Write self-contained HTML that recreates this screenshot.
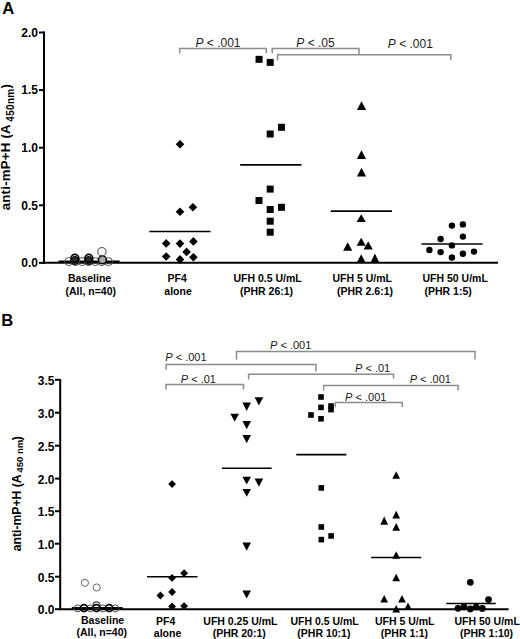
<!DOCTYPE html>
<html><head><meta charset="utf-8"><style>
html,body{margin:0;padding:0;background:#fff;}
body{width:520px;height:639px;overflow:hidden;}
svg{display:block;font-family:"Liberation Sans", sans-serif;}
</style></head><body>
<svg width="520" height="639" viewBox="0 0 520 639">
<rect width="520" height="639" fill="#fff"/>
<text x="2.2" y="14" font-size="16.6" font-weight="bold" text-anchor="start" fill="#000">A</text>
<line x1="44" y1="31.5" x2="44" y2="263.8" stroke="#000" stroke-width="2"/>
<line x1="39" y1="32.5" x2="44" y2="32.5" stroke="#000" stroke-width="2"/>
<text x="38" y="36.8" font-size="12" font-weight="bold" text-anchor="end" fill="#000">2.0</text>
<line x1="39" y1="90.1" x2="44" y2="90.1" stroke="#000" stroke-width="2"/>
<text x="38" y="94.39999999999999" font-size="12" font-weight="bold" text-anchor="end" fill="#000">1.5</text>
<line x1="39" y1="147.7" x2="44" y2="147.7" stroke="#000" stroke-width="2"/>
<text x="38" y="152.0" font-size="12" font-weight="bold" text-anchor="end" fill="#000">1.0</text>
<line x1="39" y1="205.3" x2="44" y2="205.3" stroke="#000" stroke-width="2"/>
<text x="38" y="209.60000000000002" font-size="12" font-weight="bold" text-anchor="end" fill="#000">0.5</text>
<line x1="39" y1="262.9" x2="44" y2="262.9" stroke="#000" stroke-width="2"/>
<text x="38" y="267.2" font-size="12" font-weight="bold" text-anchor="end" fill="#000">0.0</text>
<line x1="42.8" y1="262.8" x2="498" y2="262.8" stroke="#000" stroke-width="2"/>
<text transform="translate(10.3,210.3) rotate(-90) scale(1.0,1)" font-size="13.2" font-weight="bold" fill="#000" letter-spacing="0.25">anti-mP+H (A<tspan font-size="10" dy="3.3" dx="2.5" letter-spacing="0.3">450nm</tspan><tspan dy="-3.3" letter-spacing="0.25">)</tspan></text>
<text x="68" y="282.3" font-size="10.5" font-weight="bold" text-anchor="start" fill="#000">Baseline</text>
<text x="65.5" y="295" font-size="10.5" font-weight="bold" text-anchor="start" fill="#000">(All, n=40)</text>
<text x="167.5" y="282.3" font-size="10.5" font-weight="bold" text-anchor="start" fill="#000">PF4</text>
<text x="164.3" y="295.2" font-size="10.5" font-weight="bold" text-anchor="start" fill="#000">alone</text>
<text x="233.5" y="282.3" font-size="10.5" font-weight="bold" text-anchor="start" fill="#000">UFH 0.5 U/mL</text>
<text x="240" y="295" font-size="10.5" font-weight="bold" text-anchor="start" fill="#000">(PHR 26:1)</text>
<text x="332.5" y="282.3" font-size="10.5" font-weight="bold" text-anchor="start" fill="#000">UFH 5 U/mL</text>
<text x="337" y="295" font-size="10.5" font-weight="bold" text-anchor="start" fill="#000">(PHR 2.6:1)</text>
<text x="422.5" y="282.3" font-size="10.5" font-weight="bold" text-anchor="start" fill="#000">UFH 50 U/mL</text>
<text x="424.5" y="295" font-size="10.5" font-weight="bold" text-anchor="start" fill="#000">(PHR 1:5)</text>
<line x1="58.6" y1="261.6" x2="119.6" y2="261.6" stroke="#000" stroke-width="2.2"/>
<circle cx="68.8" cy="261.6" r="4.0" fill="none" stroke="#505050" stroke-width="1"/>
<circle cx="75.5" cy="261.6" r="4.0" fill="none" stroke="#505050" stroke-width="1"/>
<circle cx="82" cy="261.6" r="4.0" fill="none" stroke="#505050" stroke-width="1"/>
<circle cx="88.5" cy="261.6" r="4.0" fill="none" stroke="#505050" stroke-width="1"/>
<circle cx="95.3" cy="261.6" r="4.0" fill="none" stroke="#505050" stroke-width="1"/>
<circle cx="102" cy="261.6" r="4.0" fill="none" stroke="#505050" stroke-width="1"/>
<circle cx="108.5" cy="261.6" r="4.0" fill="none" stroke="#505050" stroke-width="1"/>
<circle cx="74.9" cy="260.5" r="3.9" fill="#2a2a2a" stroke="#111" stroke-width="1.3"/>
<circle cx="74.9" cy="258.3" r="3.9" fill="none" stroke="#000" stroke-width="1.6"/>
<circle cx="88.8" cy="260.5" r="3.9" fill="#2a2a2a" stroke="#111" stroke-width="1.3"/>
<circle cx="88.8" cy="258.3" r="3.9" fill="none" stroke="#000" stroke-width="1.6"/>
<circle cx="102.4" cy="259.8" r="3.9" fill="#aaa" stroke="#000" stroke-width="1.4"/>
<circle cx="101.9" cy="251.7" r="4.1" fill="none" stroke="#444" stroke-width="1"/>
<path d="M180.00 140.00L184.30 144.30L180.00 148.60L175.70 144.30Z" fill="#000"/>
<path d="M192.90 202.90L197.20 207.20L192.90 211.50L188.60 207.20Z" fill="#000"/>
<path d="M180.00 207.50L184.30 211.80L180.00 216.10L175.70 211.80Z" fill="#000"/>
<path d="M166.20 239.10L170.50 243.40L166.20 247.70L161.90 243.40Z" fill="#000"/>
<path d="M180.00 239.30L184.30 243.60L180.00 247.90L175.70 243.60Z" fill="#000"/>
<path d="M193.40 237.10L197.70 241.40L193.40 245.70L189.10 241.40Z" fill="#000"/>
<path d="M186.60 247.60L190.90 251.90L186.60 256.20L182.30 251.90Z" fill="#000"/>
<path d="M166.20 252.20L170.50 256.50L166.20 260.80L161.90 256.50Z" fill="#000"/>
<path d="M180.00 255.10L184.30 259.40L180.00 263.70L175.70 259.40Z" fill="#000"/>
<path d="M193.40 252.90L197.70 257.20L193.40 261.50L189.10 257.20Z" fill="#000"/>
<line x1="149.3" y1="231.5" x2="210.5" y2="231.5" stroke="#000" stroke-width="1.6"/>
<rect x="255.55" y="55.85" width="7" height="7" fill="#000"/>
<rect x="266.70" y="58.90" width="7" height="7" fill="#000"/>
<rect x="278.00" y="123.80" width="7" height="7" fill="#000"/>
<rect x="266.70" y="130.50" width="7" height="7" fill="#000"/>
<rect x="266.70" y="185.60" width="7" height="7" fill="#000"/>
<rect x="255.50" y="197.00" width="7" height="7" fill="#000"/>
<rect x="266.70" y="206.00" width="7" height="7" fill="#000"/>
<rect x="278.00" y="203.80" width="7" height="7" fill="#000"/>
<rect x="266.70" y="217.70" width="7" height="7" fill="#000"/>
<rect x="266.70" y="228.70" width="7" height="7" fill="#000"/>
<line x1="240.2" y1="164.9" x2="301.5" y2="164.9" stroke="#000" stroke-width="1.6"/>
<path d="M361.50 101.30L366.10 109.90L356.90 109.90Z" fill="#000"/>
<path d="M361.50 150.20L366.10 158.90L356.90 158.90Z" fill="#000"/>
<path d="M361.50 167.80L366.10 176.40L356.90 176.40Z" fill="#000"/>
<path d="M361.20 214.20L365.80 222.00L356.60 222.00Z" fill="#000"/>
<path d="M347.70 242.30L352.30 250.80L343.10 250.80Z" fill="#000"/>
<path d="M361.20 237.70L365.80 245.80L356.60 245.80Z" fill="#000"/>
<path d="M368.20 241.20L372.80 249.50L363.60 249.50Z" fill="#000"/>
<path d="M361.20 254.30L365.80 263.00L356.60 263.00Z" fill="#000"/>
<path d="M374.90 253.50L379.50 263.00L370.30 263.00Z" fill="#000"/>
<line x1="330.8" y1="211.1" x2="392" y2="211.1" stroke="#000" stroke-width="1.6"/>
<circle cx="451.9" cy="225.6" r="3.2" fill="#000" stroke="none" stroke-width="0"/>
<circle cx="462.9" cy="224.4" r="3.2" fill="#000" stroke="none" stroke-width="0"/>
<circle cx="440.6" cy="239" r="3.2" fill="#000" stroke="none" stroke-width="0"/>
<circle cx="462.9" cy="236.6" r="3.2" fill="#000" stroke="none" stroke-width="0"/>
<circle cx="451.9" cy="245.4" r="3.2" fill="#000" stroke="none" stroke-width="0"/>
<circle cx="429.4" cy="250" r="3.2" fill="#000" stroke="none" stroke-width="0"/>
<circle cx="440.6" cy="252.1" r="3.2" fill="#000" stroke="none" stroke-width="0"/>
<circle cx="462.9" cy="253.75" r="3.2" fill="#000" stroke="none" stroke-width="0"/>
<circle cx="474" cy="251.6" r="3.2" fill="#000" stroke="none" stroke-width="0"/>
<circle cx="451.9" cy="257.5" r="3.2" fill="#000" stroke="none" stroke-width="0"/>
<line x1="421.5" y1="244" x2="482.5" y2="244" stroke="#000" stroke-width="1.6"/>
<path d="M179.7 53.3V48.4H266.3V53.3" fill="none" stroke="#8c8c8c" stroke-width="1.5"/>
<path d="M272.2 53.3V48.4H359.0V55" fill="none" stroke="#8c8c8c" stroke-width="1.5"/>
<path d="M277.6 60.3V54.8H450.8V60.3" fill="none" stroke="#8c8c8c" stroke-width="1.5"/>
<text x="195.5" y="47.3" font-size="12" fill="#1a1a1a"><tspan font-style="italic">P</tspan> &lt; .001</text>
<text x="296.3" y="46.7" font-size="12" fill="#1a1a1a"><tspan font-style="italic">P</tspan> &lt; .05</text>
<text x="387.8" y="48.4" font-size="12" fill="#1a1a1a"><tspan font-style="italic">P</tspan> &lt; .001</text>
<text x="1.2" y="325.6" font-size="16.6" font-weight="bold" text-anchor="start" fill="#000">B</text>
<line x1="60.2" y1="379" x2="60.2" y2="610" stroke="#000" stroke-width="2"/>
<line x1="55" y1="379.8" x2="60.2" y2="379.8" stroke="#000" stroke-width="2"/>
<text x="54.5" y="384.7" font-size="12" font-weight="bold" text-anchor="end" fill="#000">3.5</text>
<line x1="55" y1="412.7" x2="60.2" y2="412.7" stroke="#000" stroke-width="2"/>
<text x="54.5" y="417.59999999999997" font-size="12" font-weight="bold" text-anchor="end" fill="#000">3.0</text>
<line x1="55" y1="445.7" x2="60.2" y2="445.7" stroke="#000" stroke-width="2"/>
<text x="54.5" y="450.59999999999997" font-size="12" font-weight="bold" text-anchor="end" fill="#000">2.5</text>
<line x1="55" y1="478.6" x2="60.2" y2="478.6" stroke="#000" stroke-width="2"/>
<text x="54.5" y="483.5" font-size="12" font-weight="bold" text-anchor="end" fill="#000">2.0</text>
<line x1="55" y1="511.2" x2="60.2" y2="511.2" stroke="#000" stroke-width="2"/>
<text x="54.5" y="516.1" font-size="12" font-weight="bold" text-anchor="end" fill="#000">1.5</text>
<line x1="55" y1="543.7" x2="60.2" y2="543.7" stroke="#000" stroke-width="2"/>
<text x="54.5" y="548.6" font-size="12" font-weight="bold" text-anchor="end" fill="#000">1.0</text>
<line x1="55" y1="576.7" x2="60.2" y2="576.7" stroke="#000" stroke-width="2"/>
<text x="54.5" y="581.6" font-size="12" font-weight="bold" text-anchor="end" fill="#000">0.5</text>
<line x1="55" y1="609.2" x2="60.2" y2="609.2" stroke="#000" stroke-width="2"/>
<text x="54.5" y="614.1" font-size="12" font-weight="bold" text-anchor="end" fill="#000">0.0</text>
<line x1="59.2" y1="609.2" x2="508.6" y2="609.2" stroke="#000" stroke-width="2"/>
<text transform="translate(21.1,551.2) rotate(-90) scale(0.975,1)" font-size="12.5" font-weight="bold" fill="#000">anti-mP+H (A</text>
<text transform="translate(23.2,472.7) rotate(-90) scale(1.13,1)" font-size="8.5" font-weight="bold" fill="#000">450 nm</text>
<text transform="translate(21.1,440.2) rotate(-90) scale(0.975,1)" font-size="12.5" font-weight="bold" fill="#000">)</text>
<text x="81" y="623.5" font-size="10.5" font-weight="bold" text-anchor="start" fill="#000">Baseline</text>
<text x="76.5" y="636.3" font-size="10.5" font-weight="bold" text-anchor="start" fill="#000">(All, n=40)</text>
<text x="156" y="624.5" font-size="10.5" font-weight="bold" text-anchor="start" fill="#000">PF4</text>
<text x="153.8" y="636.5" font-size="10.5" font-weight="bold" text-anchor="start" fill="#000">alone</text>
<text x="203.3" y="624.5" font-size="10.5" font-weight="bold" text-anchor="start" fill="#000">UFH 0.25 U/mL</text>
<text x="212.7" y="636.5" font-size="10.5" font-weight="bold" text-anchor="start" fill="#000">(PHR 20:1)</text>
<text x="290.4" y="624.5" font-size="10.5" font-weight="bold" text-anchor="start" fill="#000">UFH 0.5 U/mL</text>
<text x="297.3" y="636.5" font-size="10.5" font-weight="bold" text-anchor="start" fill="#000">(PHR 10:1)</text>
<text x="375" y="624.5" font-size="10.5" font-weight="bold" text-anchor="start" fill="#000">UFH 5 U/mL</text>
<text x="380.8" y="636.5" font-size="10.5" font-weight="bold" text-anchor="start" fill="#000">(PHR 1:1)</text>
<text x="454.5" y="624.5" font-size="10.5" font-weight="bold" text-anchor="start" fill="#000">UFH 50 U/mL</text>
<text x="460" y="636.5" font-size="10.5" font-weight="bold" text-anchor="start" fill="#000">(PHR 1:10)</text>
<line x1="71.8" y1="608.2" x2="122.6" y2="608.2" stroke="#000" stroke-width="2.4"/>
<circle cx="77.6" cy="608.4" r="3.5" fill="none" stroke="#505050" stroke-width="1"/>
<circle cx="84.2" cy="608.4" r="3.5" fill="none" stroke="#505050" stroke-width="1"/>
<circle cx="90.2" cy="608.4" r="3.5" fill="none" stroke="#505050" stroke-width="1"/>
<circle cx="96.4" cy="608.4" r="3.5" fill="none" stroke="#505050" stroke-width="1"/>
<circle cx="102.8" cy="608.4" r="3.5" fill="none" stroke="#505050" stroke-width="1"/>
<circle cx="109.1" cy="608.4" r="3.5" fill="none" stroke="#505050" stroke-width="1"/>
<circle cx="115.3" cy="608.4" r="3.5" fill="none" stroke="#505050" stroke-width="1"/>
<circle cx="96.5" cy="605.4" r="3.5" fill="none" stroke="#444" stroke-width="1.1"/>
<circle cx="83.9" cy="608.0" r="3.5" fill="none" stroke="#000" stroke-width="1.5"/>
<circle cx="96.5" cy="608.0" r="3.5" fill="none" stroke="#000" stroke-width="1.5"/>
<circle cx="109.2" cy="608.0" r="3.5" fill="none" stroke="#000" stroke-width="1.5"/>
<circle cx="84.9" cy="582.8" r="3.6" fill="none" stroke="#666" stroke-width="1"/>
<circle cx="96.7" cy="587.5" r="3.6" fill="none" stroke="#666" stroke-width="1"/>
<path d="M172.10 480.20L176.00 484.10L172.10 488.00L168.20 484.10Z" fill="#000"/>
<path d="M184.10 569.30L188.00 573.20L184.10 577.10L180.20 573.20Z" fill="#000"/>
<path d="M172.10 574.00L176.00 577.90L172.10 581.80L168.20 577.90Z" fill="#000"/>
<path d="M172.10 588.10L176.00 592.00L172.10 595.90L168.20 592.00Z" fill="#000"/>
<path d="M160.40 591.60L164.30 595.50L160.40 599.40L156.50 595.50Z" fill="#000"/>
<path d="M172.10 602.60L176.00 606.50L172.10 610.40L168.20 606.50Z" fill="#000"/>
<path d="M184.10 602.20L188.00 606.10L184.10 610.00L180.20 606.10Z" fill="#000"/>
<line x1="147" y1="576.7" x2="197.5" y2="576.7" stroke="#000" stroke-width="1.6"/>
<path d="M254.60 397.30L263.20 397.30L258.90 405.40Z" fill="#000"/>
<path d="M242.40 402.50L251.00 402.50L246.70 411.00Z" fill="#000"/>
<path d="M230.40 413.80L239.00 413.80L234.70 421.70Z" fill="#000"/>
<path d="M242.40 420.90L251.00 420.90L246.70 429.20Z" fill="#000"/>
<path d="M242.40 435.00L251.00 435.00L246.70 443.30Z" fill="#000"/>
<path d="M242.40 476.70L251.00 476.70L246.70 484.60Z" fill="#000"/>
<path d="M254.60 478.60L263.20 478.60L258.90 486.70Z" fill="#000"/>
<path d="M242.40 488.90L251.00 488.90L246.70 496.80Z" fill="#000"/>
<path d="M242.40 542.50L251.00 542.50L246.70 550.70Z" fill="#000"/>
<path d="M242.40 590.40L251.00 590.40L246.70 598.50Z" fill="#000"/>
<line x1="221.9" y1="468.3" x2="271.7" y2="468.3" stroke="#000" stroke-width="1.6"/>
<rect x="318.20" y="394.20" width="5.6" height="5.6" fill="#000"/>
<rect x="318.20" y="404.60" width="5.6" height="5.6" fill="#000"/>
<rect x="328.20" y="403.20" width="5.6" height="5.6" fill="#000"/>
<rect x="328.20" y="406.80" width="5.6" height="5.6" fill="#000"/>
<rect x="308.20" y="412.20" width="5.6" height="5.6" fill="#000"/>
<rect x="318.20" y="416.00" width="5.6" height="5.6" fill="#000"/>
<rect x="318.50" y="485.10" width="5.6" height="5.6" fill="#000"/>
<rect x="318.50" y="524.20" width="5.6" height="5.6" fill="#000"/>
<rect x="328.30" y="533.10" width="5.6" height="5.6" fill="#000"/>
<rect x="318.50" y="536.80" width="5.6" height="5.6" fill="#000"/>
<line x1="296.3" y1="454.6" x2="346.4" y2="454.6" stroke="#000" stroke-width="1.6"/>
<path d="M396.20 471.20L400.10 478.80L392.30 478.80Z" fill="#000"/>
<path d="M396.20 510.80L400.10 518.50L392.30 518.50Z" fill="#000"/>
<path d="M384.20 516.50L388.10 524.80L380.30 524.80Z" fill="#000"/>
<path d="M396.20 522.90L400.10 530.80L392.30 530.80Z" fill="#000"/>
<path d="M396.20 551.20L400.10 558.80L392.30 558.80Z" fill="#000"/>
<path d="M396.20 573.70L400.10 581.30L392.30 581.30Z" fill="#000"/>
<path d="M384.20 595.00L388.10 602.60L380.30 602.60Z" fill="#000"/>
<path d="M402.00 595.00L405.90 602.60L398.10 602.60Z" fill="#000"/>
<path d="M408.00 602.50L411.90 610.00L404.10 610.00Z" fill="#000"/>
<path d="M396.20 605.00L400.10 612.50L392.30 612.50Z" fill="#000"/>
<line x1="371.2" y1="557.5" x2="421.2" y2="557.5" stroke="#000" stroke-width="1.6"/>
<circle cx="470.3" cy="582.3" r="3.4" fill="#000" stroke="none" stroke-width="0"/>
<circle cx="488.5" cy="599.6" r="3.4" fill="#000" stroke="none" stroke-width="0"/>
<circle cx="458" cy="608.3" r="3.4" fill="#000" stroke="none" stroke-width="0"/>
<circle cx="464" cy="606.9" r="3.4" fill="#000" stroke="none" stroke-width="0"/>
<circle cx="470.3" cy="608.9" r="3.4" fill="#000" stroke="none" stroke-width="0"/>
<circle cx="476.2" cy="607.1" r="3.4" fill="#000" stroke="none" stroke-width="0"/>
<circle cx="482.3" cy="608.5" r="3.4" fill="#000" stroke="none" stroke-width="0"/>
<line x1="446.2" y1="603.5" x2="495.8" y2="603.5" stroke="#000" stroke-width="1.6"/>
<path d="M236.5 359.5V351.6H475V359.5" fill="none" stroke="#8c8c8c" stroke-width="1.5"/>
<path d="M166.2 369.7V364.6H315.9V371.5" fill="none" stroke="#8c8c8c" stroke-width="1.5"/>
<path d="M166.0 389.5V384.6H243.5V389.5" fill="none" stroke="#8c8c8c" stroke-width="1.5"/>
<path d="M248.6 379.4V374.2H393.5V378.6" fill="none" stroke="#8c8c8c" stroke-width="1.5"/>
<path d="M323.6 390.4V385.5H458.1V390.4" fill="none" stroke="#8c8c8c" stroke-width="1.5"/>
<path d="M335.3 407.3V402.5H402.2V407.0" fill="none" stroke="#8c8c8c" stroke-width="1.5"/>
<text x="270" y="348.9" font-size="11" fill="#1a1a1a"><tspan font-style="italic">P</tspan> &lt; .001</text>
<text x="165.3" y="360.7" font-size="11" fill="#1a1a1a"><tspan font-style="italic">P</tspan> &lt; .001</text>
<text x="180.8" y="382.6" font-size="11" fill="#1a1a1a"><tspan font-style="italic">P</tspan> &lt; .01</text>
<text x="355" y="372.2" font-size="11" fill="#1a1a1a"><tspan font-style="italic">P</tspan> &lt; .01</text>
<text x="409.7" y="382.9" font-size="11" fill="#1a1a1a"><tspan font-style="italic">P</tspan> &lt; .001</text>
<text x="345.1" y="400.8" font-size="11" fill="#1a1a1a"><tspan font-style="italic">P</tspan> &lt; .001</text>
</svg>
</body></html>
